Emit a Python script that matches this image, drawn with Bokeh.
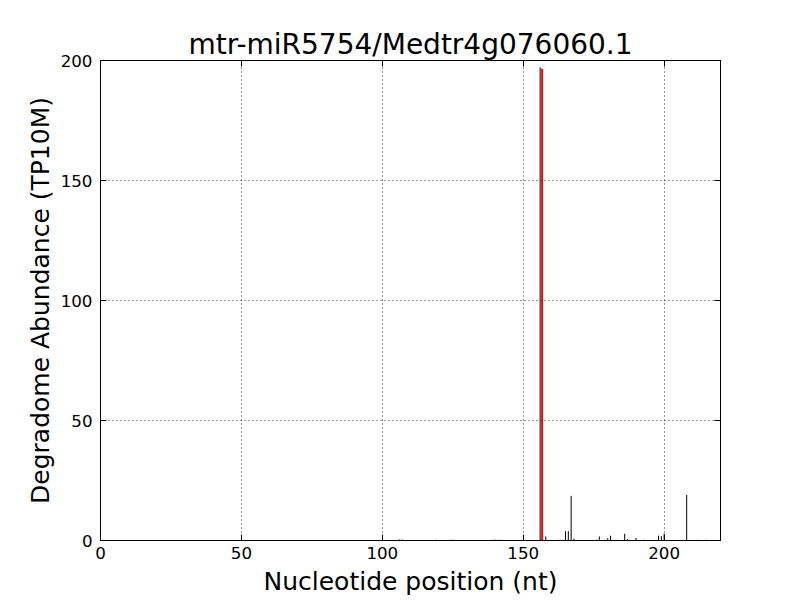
from bokeh.plotting import figure
from bokeh.models import ColumnDataSource, LinearAxis, FixedTicker, Range1d
from bokeh.transform import dodge
from bokeh.embed import file_html
from bokeh.resources import INLINE

title_text = "mtr-miR5754/Medtr4g076060.1"
x_label = "Nucleotide position (nt)"
y_label = "Degradome Abundance (TP10M)"

positions = [59, 70, 72, 86, 95, 98, 106, 107, 119, 124, 125, 139, 140, 141, 142,
             156, 158, 163, 164, 165, 166, 167, 168, 176, 177, 180, 181, 183, 186,
             187, 190, 193, 198, 199, 200, 208, 212, 215]
abundance = [0.2, 0.2, 0.2, 0.2, 0.2, 0.2, 0.4, 0.4, 0.3, 0.3, 0.3, 0.3, 0.4, 0.3, 0.3,
             197.2, 1.7, 0.3, 0.3, 3.9, 3.9, 18.6, 0.8, 0.3, 1.7, 1.0, 2.0, 0.3, 2.8,
             0.6, 1.1, 0.3, 2.0, 1.8, 2.8, 19.0, 0.3, 0.3]

cleavage_pos = [157]
cleavage_val = [196.6]

x_ticks = [0, 50, 100, 150, 200]
y_ticks = [0, 50, 100, 150, 200]

FONT = "DejaVu Sans"

p = figure(width=792, height=592, output_backend="svg", toolbar_location=None,
           x_range=Range1d(0, 220), y_range=Range1d(0, 200),
           min_border_left=100, min_border_right=72, min_border_top=60, min_border_bottom=52,
           frame_width=620, frame_height=480)

p.title.text = title_text
p.title.align = "center"
p.title.text_font = FONT
p.title.text_font_size = "28px"
p.title.text_font_style = "normal"
p.title.text_color = "black"
p.title.standoff = 0

p.outline_line_color = "black"
p.outline_line_width = 1
p.background_fill_color = "white"
p.border_fill_color = "white"

for ax, ticks in ((p.xaxis[0], x_ticks), (p.yaxis[0], y_ticks)):
    ax.ticker = FixedTicker(ticks=ticks)
    ax.major_tick_in = 6
    ax.major_tick_out = 0
    ax.minor_tick_in = 0
    ax.minor_tick_out = 0
    ax.axis_line_color = "black"
    ax.major_label_text_font = FONT
    ax.major_label_text_font_size = "16.7px"
    ax.major_label_text_color = "black"
    ax.axis_label_text_font = FONT
    ax.axis_label_text_font_size = "25px"
    ax.axis_label_text_font_style = "normal"
    ax.axis_label_text_color = "black"

p.xaxis.axis_label = x_label
p.yaxis.axis_label = y_label
p.xaxis.major_label_standoff = 6
p.yaxis.major_label_standoff = 8
p.xaxis.axis_label_standoff = 5
p.yaxis.axis_label_standoff = 3

top_ax = LinearAxis(ticker=FixedTicker(ticks=x_ticks),
                    major_label_overrides={t: "" for t in x_ticks},
                    major_tick_in=6, major_tick_out=0, minor_tick_in=0, minor_tick_out=0)
right_ax = LinearAxis(ticker=FixedTicker(ticks=y_ticks),
                      major_label_overrides={t: "" for t in y_ticks},
                      major_tick_in=6, major_tick_out=0, minor_tick_in=0, minor_tick_out=0)
p.add_layout(top_ax, "above")
p.add_layout(right_ax, "right")

for g in (p.xgrid[0], p.ygrid[0]):
    g.grid_line_color = "black"
    g.grid_line_dash = "1 3"
    g.grid_line_width = 1
    g.grid_line_alpha = 0.8

src = ColumnDataSource(dict(x=positions, y=abundance))
p.segment(x0="x", y0=0, x1="x", y1="y", source=src, line_color="black", line_width=1)

csrc = ColumnDataSource(dict(x=cleavage_pos, y=cleavage_val))
p.segment(x0=dodge("x", -0.3), y0=0, x1=dodge("x", -0.3), y1="y", source=csrc,
          line_color="red", line_width=2, line_cap="butt")

open("out.html", "w").write(file_html(p, INLINE))
